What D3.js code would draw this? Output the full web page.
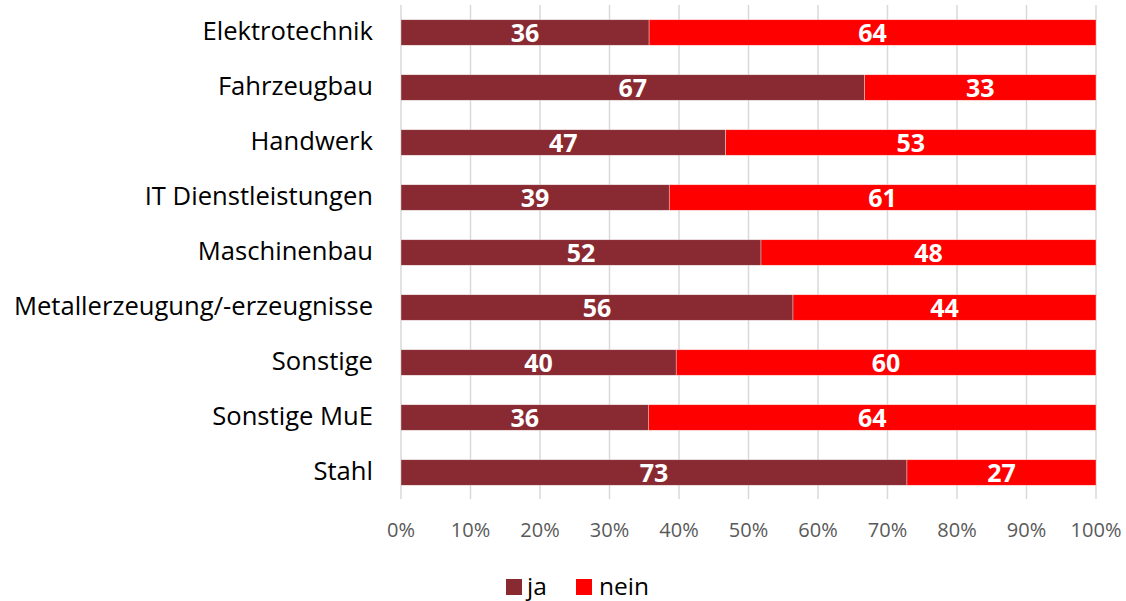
<!DOCTYPE html>
<html>
<head>
<meta charset="utf-8">
<script src="https://cdn.jsdelivr.net/npm/d3@7"></script>
<style>
  html, body { margin: 0; padding: 0; background: #fff; }
  svg { display: block; }
  text { font-family: "Open Sans", sans-serif; }
</style>
</head>
<body>
<svg id="chart" width="1126" height="601"></svg>
<script>
const categories = ["Elektrotechnik", "Fahrzeugbau", "Handwerk", "IT Dienstleistungen", "Maschinenbau",
  "Metallerzeugung/-erzeugnisse", "Sonstige", "Sonstige MuE", "Stahl"];
const jaValues   = [35.7, 66.7, 46.7, 38.6, 51.8, 56.4, 39.6, 35.6, 72.8];
const neinValues = [64.3, 33.3, 53.3, 61.4, 48.2, 43.6, 60.4, 64.4, 27.2];
const seriesNames = ["ja", "nein"];
const seriesColors = ["#892A32", "#FF0000"];
const tickValues = [0, 0.1, 0.2, 0.3, 0.4, 0.5, 0.6, 0.7, 0.8, 0.9, 1.0];

(function () {
const svg = d3.select("#chart");
const pLeft = 401, pRight = 1096, pTop = 5, pBottom = 500;

const x = d3.scaleLinear().domain([0, 1]).range([pLeft, pRight]);
const y = d3.scaleBand().domain(categories).range([pTop, pBottom]).paddingInner(0.536).paddingOuter(0.268);

const rows = categories.map((c, i) => ({ cat: c, ja: jaValues[i], nein: neinValues[i] }));
const stack = d3.stack().keys(seriesNames).offset(d3.stackOffsetExpand);
const stacked = stack(rows);

// gridlines
svg.append("g").selectAll("line").data(tickValues).join("line")
  .attr("x1", d => x(d)).attr("x2", d => x(d))
  .attr("y1", pTop).attr("y2", 499)
  .attr("stroke", "#d9d9d9").attr("stroke-width", 1.5);

// bars
const layers = svg.append("g").selectAll("g").data(stacked).join("g")
  .attr("fill", (d, i) => seriesColors[i]);
layers.selectAll("rect").data(d => d).join("rect")
  .attr("x", d => x(d[0]))
  .attr("width", d => x(d[1]) - x(d[0]))
  .attr("y", d => y(d.data.cat))
  .attr("height", y.bandwidth())
  .attr("stroke", "#ffffff").attr("stroke-width", 0.6).attr("stroke-opacity", 0.6);

// data labels
stacked.forEach((layer, li) => {
  svg.append("g").selectAll("text").data(layer).join("text")
    .attr("x", d => (x(d[0]) + x(d[1])) / 2)
    .attr("y", d => y(d.data.cat) + y.bandwidth() / 2 + 9.5)
    .attr("text-anchor", "middle")
    .attr("fill", "#ffffff")
    .attr("font-weight", "bold")
    .attr("font-size", "25px")
    .text(d => d3.format(".0f")(d.data[seriesNames[li]]));
});

// category labels
svg.append("g").selectAll("text").data(categories).join("text")
  .attr("x", 373)
  .attr("y", d => y(d) + y.bandwidth() / 2 + 7)
  .attr("text-anchor", "end")
  .attr("fill", "#000000")
  .attr("font-size", "25.6px")
  .text(d => d);

// x axis tick labels
svg.append("g").selectAll("text").data(tickValues).join("text")
  .attr("x", d => x(d))
  .attr("y", 537)
  .attr("text-anchor", "middle")
  .attr("fill", "#595959")
  .attr("font-size", "20px")
  .text(d => d3.format(".0%")(d));

// legend
const legendItems = [{ name: "ja", sx: 506, tx: 527 }, { name: "nein", sx: 576, tx: 599 }];
const lg = svg.append("g");
legendItems.forEach((it, i) => {
  lg.append("rect").attr("x", it.sx).attr("y", 579).attr("width", 16).attr("height", 16)
    .attr("fill", seriesColors[i]);
  lg.append("text").attr("x", it.tx).attr("y", 595)
    .attr("fill", "#000000").attr("font-size", "24.5px").text(it.name);
});
})();
</script>
</body>
</html>
